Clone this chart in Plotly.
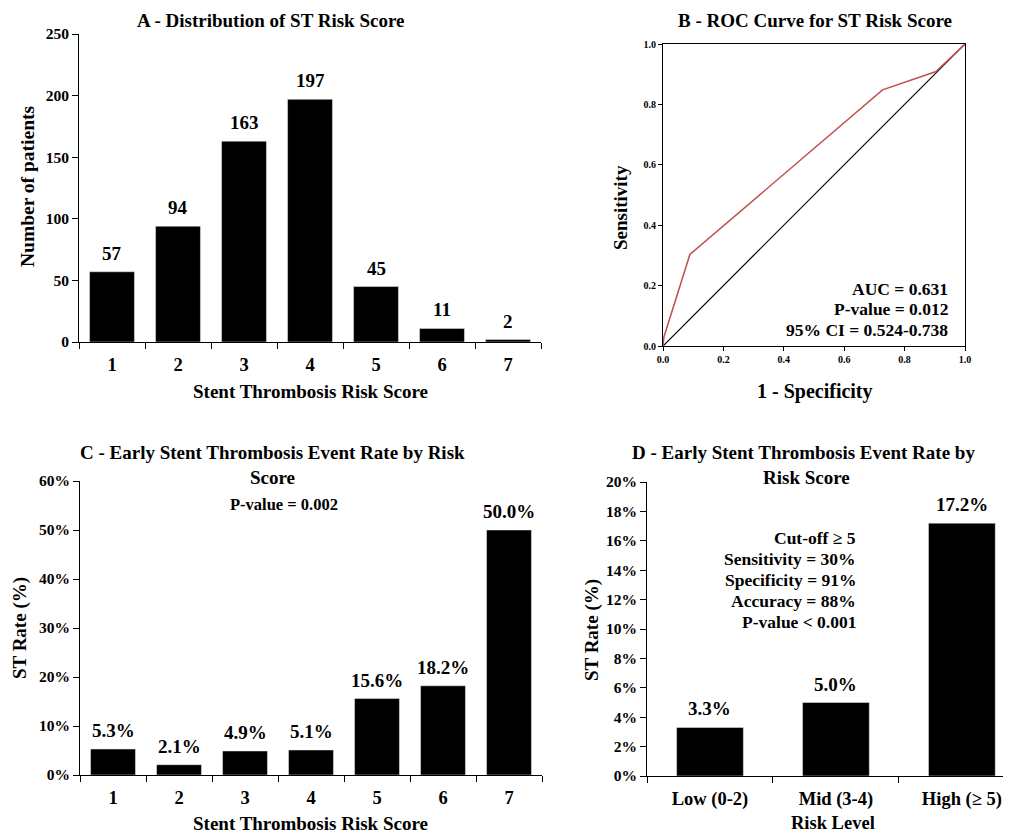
import plotly.graph_objects as go

# ---------------- data ----------------
scores = ["1", "2", "3", "4", "5", "6", "7"]
patients = [57, 94, 163, 197, 45, 11, 2]

roc_fpr = [0.0, 0.003, 0.089, 0.727, 0.904, 1.0]
roc_tpr = [0.0, 0.03, 0.303, 0.848, 0.909, 1.0]
ref_x = [0.0, 1.0]
ref_y = [0.0, 1.0]

st_rate_by_score = [5.3, 2.1, 4.9, 5.1, 15.6, 18.2, 50.0]

risk_levels = ["Low (0-2)", "Mid (3-4)", "High (\u2265 5)"]
st_rate_by_level = [3.3, 5.0, 17.2]

roc_stats = ["AUC = 0.631", "P-value = 0.012", "95% CI = 0.524-0.738"]
cutoff_stats = ["Cut-off \u2265 5", "Sensitivity = 30%", "Specificity = 91%",
                "Accuracy = 88%", "P-value < 0.001"]

# ---------------- layout helpers ----------------
OFF = 8                       # page body margin of the html output
W, H = 1011 - OFF, 835 - OFF  # figure size so it ends at the window edge
FONT = "Liberation Serif, Times New Roman, serif"


def xd(a, b):
    return [(a - OFF) / W, (b - OFF) / W]


def yd(top, bottom):
    return [1 - (bottom - OFF) / H, 1 - (top - OFF) / H]


def ann(text, x, y, size=19, xanchor="center", angle=0):
    return dict(text=text, x=(x - OFF) / W, y=1 - (y - OFF) / H,
                xref="paper", yref="paper",
                showarrow=False, xanchor=xanchor, yanchor="middle",
                textangle=angle,
                font=dict(family=FONT, size=size, color="black", weight="bold"))


tickfont = dict(family=FONT, size=15.5, color="black", weight="bold")
catfont = dict(family=FONT, size=18.5, color="black", weight="bold")
barfont = dict(family=FONT, size=19, color="black", weight="bold")


def bar_labels(vals, fmt, xref, yref):
    # x given as category index so numeric-looking category names are not misread
    return [dict(x=i, y=v, xref=xref, yref=yref, text=fmt(v), showarrow=False,
                 xanchor="center", yanchor="bottom", yshift=6, font=barfont)
            for i, v in enumerate(vals)]


fig = go.Figure()

# A - distribution
fig.add_trace(go.Bar(x=scores, y=patients, marker_color="black", width=0.68,
                     xaxis="x", yaxis="y", showlegend=False))

# B - ROC
fig.add_trace(go.Scatter(x=ref_x, y=ref_y, mode="lines",
                         line=dict(color="black", width=1.2),
                         xaxis="x2", yaxis="y2", showlegend=False))
fig.add_trace(go.Scatter(x=roc_fpr, y=roc_tpr, mode="lines",
                         line=dict(color="#C0504D", width=1.5),
                         xaxis="x2", yaxis="y2", showlegend=False))

# C - rate by score
fig.add_trace(go.Bar(x=scores, y=st_rate_by_score, marker_color="black", width=0.68,
                     xaxis="x3", yaxis="y3", showlegend=False))

# D - rate by risk level
fig.add_trace(go.Bar(x=risk_levels, y=st_rate_by_level, marker_color="black", width=0.53,
                     xaxis="x4", yaxis="y4", showlegend=False))

common_cat = dict(type="category", showline=True, linecolor="black", linewidth=1,
                  ticks="outside", ticklen=6, tickcolor="black", tickson="boundaries",
                  tickfont=catfont, showgrid=False, zeroline=False, fixedrange=True,
                  automargin=False, ticklabelstandoff=6)
common_y = dict(showline=True, linecolor="black", linewidth=1, ticks="outside",
                ticklen=6, tickcolor="black", tickfont=tickfont, showgrid=False,
                zeroline=False, fixedrange=True, automargin=False)
roc_axis = dict(range=[0, 1], dtick=0.2, tickformat=".1f", showline=True, mirror=True,
                linecolor="black", linewidth=1, ticks="outside", ticklen=4,
                tickcolor="black",
                tickfont=dict(family=FONT, size=10, color="black", weight="bold"),
                showgrid=False, zeroline=False, fixedrange=True, automargin=False)

annotations = [
    ann("A - Distribution of ST Risk Score", 270, 20),
    ann("Number of patients", 28, 187, size=19.5, angle=-90),
    ann("Stent Thrombosis Risk Score", 310, 392),
    ann("B - ROC Curve for ST Risk Score", 815, 20),
    ann("Sensitivity", 620, 208, angle=-90),
    ann("1 - Specificity", 815, 391, size=20),
    ann("C - Early Stent Thrombosis Event Rate by Risk", 272, 453),
    ann("Score", 272, 477),
    ann("P-value = 0.002", 284, 505, size=16.5),
    ann("ST Rate (%)", 20, 628, angle=-90),
    ann("Stent Thrombosis Risk Score", 310, 823),
    ann("D - Early Stent Thrombosis Event Rate by", 803, 453),
    ann("Risk Score", 806, 477),
    ann("ST Rate (%)", 592, 630, angle=-90),
    ann("Risk Level", 833, 823, size=18.5),
]
for i, t in enumerate(roc_stats):
    annotations.append(ann(t, 950, 289 + 20.5 * i, size=17.5, xanchor="right"))
for i, t in enumerate(cutoff_stats):
    annotations.append(ann(t, 858, 538 + 21 * i, size=17.5, xanchor="right"))

annotations += bar_labels(patients, lambda v: f"{v}", "x", "y")
annotations += bar_labels(st_rate_by_score, lambda v: f"{v:.1f}%", "x3", "y3")
annotations += bar_labels(st_rate_by_level, lambda v: f"{v:.1f}%", "x4", "y4")

fig.update_layout(
    width=W, height=H,
    margin=dict(l=0, r=0, t=0, b=0, autoexpand=False),
    paper_bgcolor="white", plot_bgcolor="white",
    font=dict(family=FONT, color="black"),
    xaxis=dict(domain=xd(79, 541), anchor="y", range=[-0.5, 6.5], **common_cat),
    yaxis=dict(domain=yd(34, 342), anchor="x", range=[0, 250], dtick=50, **common_y),
    xaxis2=dict(domain=xd(663, 965), anchor="y2", **roc_axis),
    yaxis2=dict(domain=yd(44, 346), anchor="x2", **roc_axis),
    xaxis3=dict(domain=xd(80, 542), anchor="y3", range=[-0.5, 6.5], **common_cat),
    yaxis3=dict(domain=yd(481, 775), anchor="x3", range=[0, 60], dtick=10,
                ticksuffix="%", **common_y),
    xaxis4=dict(domain=xd(647, 1011), anchor="y4", range=[-0.5, 2.39], **common_cat),
    yaxis4=dict(domain=yd(482, 776), anchor="x4", range=[0, 20], dtick=2,
                ticksuffix="%", **common_y),
    annotations=annotations,
)

fig.write_html("out.html")
